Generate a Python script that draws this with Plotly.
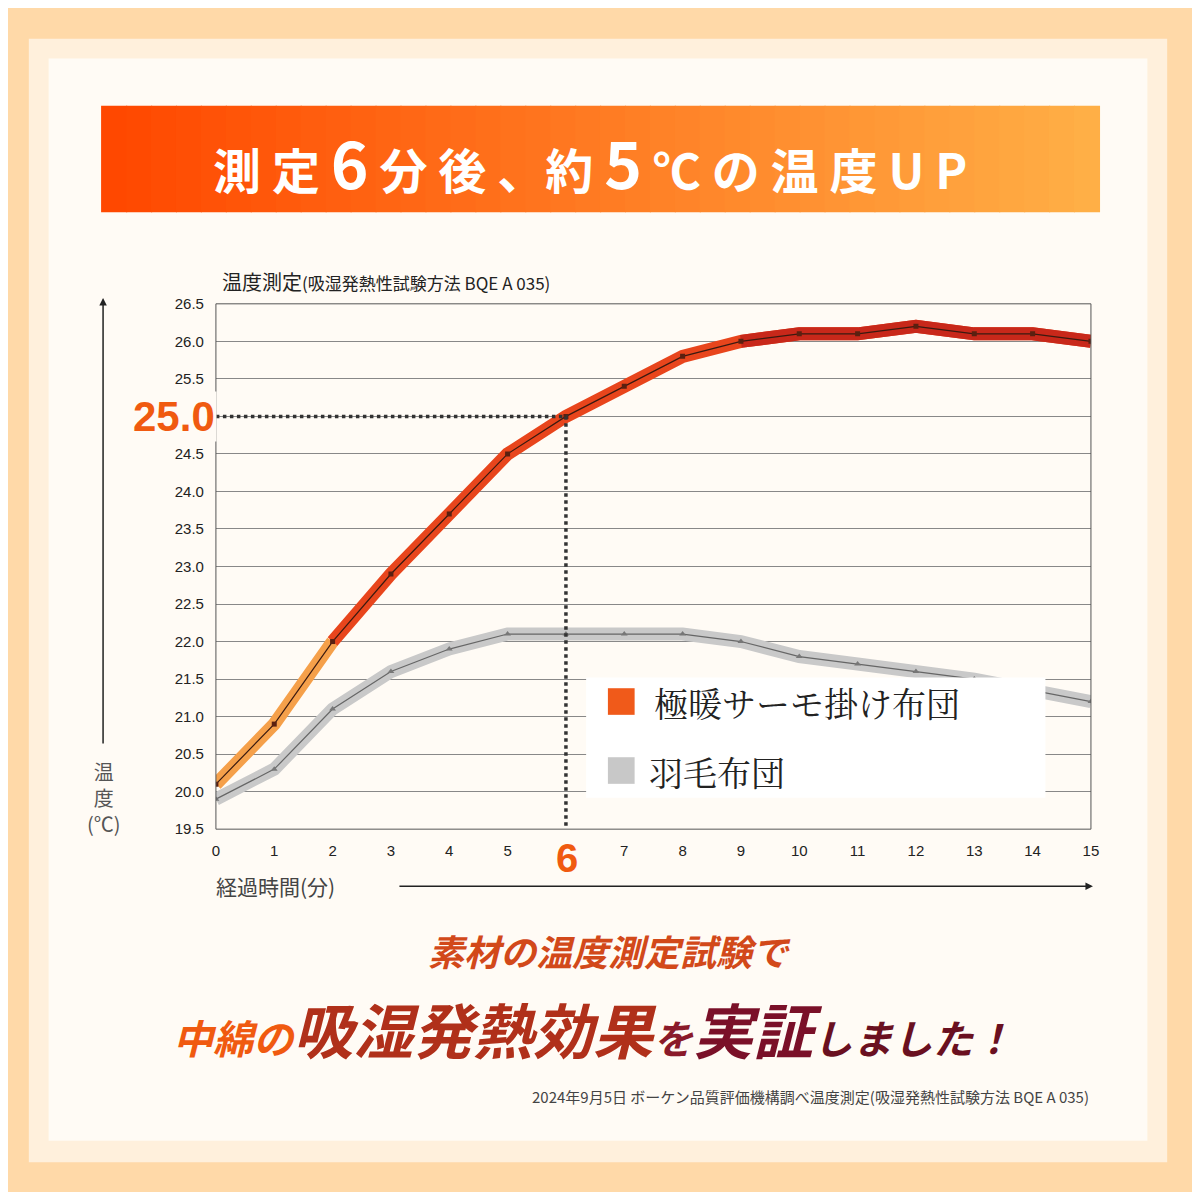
import plotly.graph_objects as go

minutes = list(range(16))
thermo = [20.1, 20.9, 22.0, 22.9, 23.7, 24.5, 25.0, 25.4, 25.8, 26.0, 26.1, 26.1, 26.2, 26.1, 26.1, 26.0]
down = [19.9, 20.3, 21.1, 21.6, 21.9, 22.1, 22.1, 22.1, 22.1, 22.0, 21.8, 21.7, 21.6, 21.5, 21.35, 21.2]
yticks = [19.5 + 0.5 * i for i in range(15)]
names = ["極暖サーモ掛け布団", "羽毛布団"]

W = H = 1184
OFF = 8
def px(x): return (x - OFF) / W
def py(y): return 1 - (y - OFF) / H

fig = go.Figure()
fig.add_trace(go.Scatter(x=minutes, y=down, mode="lines", line=dict(color="#c9c9c9", width=13), hoverinfo="skip"))
fig.add_trace(go.Scatter(x=minutes[:3], y=thermo[:3], mode="lines", line=dict(color="#f5a04a", width=13), hoverinfo="skip"))
fig.add_trace(go.Scatter(x=minutes[2:], y=thermo[2:], mode="lines", line=dict(color="#e8451c", width=13), hoverinfo="skip"))
fig.add_trace(go.Scatter(x=minutes[9:], y=thermo[9:], mode="lines", line=dict(color="#c8281a", width=13), hoverinfo="skip"))
fig.add_trace(go.Scatter(x=minutes, y=down, mode="lines+markers", line=dict(color="#666", width=1.2),
                         marker=dict(symbol="triangle-up", size=6, color="#777"), hoverinfo="skip"))
fig.add_trace(go.Scatter(x=minutes, y=thermo, mode="lines+markers", line=dict(color="#3a1a10", width=1.2),
                         marker=dict(symbol="square", size=5, color="#5a2010"), hoverinfo="skip"))
fig.add_trace(go.Scatter(x=[0, 6, 6], y=[25.0, 25.0, 19.5], mode="lines",
                         line=dict(color="#333", width=3.5, dash="dot"), hoverinfo="skip"))

shapes = []
shapes.append(dict(type="rect", xref="paper", yref="paper", x0=px(25), x1=px(1175), y0=py(1170), y1=py(30),
                   fillcolor="#fff0dc", line=dict(width=0), layer="below"))
shapes.append(dict(type="rect", xref="paper", yref="paper", x0=px(45), x1=px(1155), y0=py(1148), y1=py(50),
                   fillcolor="#fffbf5", line=dict(width=0), layer="below"))
n = 40
c0 = (255, 72, 0); c1 = (255, 175, 70)
for i in range(n):
    t = i / (n - 1)
    c = tuple(int(c0[k] + (c1[k] - c0[k]) * t) for k in range(3))
    shapes.append(dict(type="rect", xref="paper", yref="paper",
                       x0=px(98 + (1106 - 98) * i / n), x1=px(98 + (1106 - 98) * (i + 1) / n) + 0.001,
                       y0=py(206), y1=py(98), fillcolor="rgb(%d,%d,%d)" % c, line=dict(width=0), layer="below"))
shapes.append(dict(type="rect", xref="paper", yref="paper", x0=px(214), x1=px(1098), y0=py(832), y1=py(299),
                   fillcolor="rgba(0,0,0,0)", line=dict(color="#555", width=1)))
shapes.append(dict(type="rect", xref="paper", yref="paper", x0=px(588), x1=px(1052), y0=py(800), y1=py(678),
                   fillcolor="white", line=dict(width=0)))
shapes.append(dict(type="rect", xref="paper", yref="paper", x0=px(610), x1=px(637), y0=py(716), y1=py(689),
                   fillcolor="#f05a1a", line=dict(width=0)))
shapes.append(dict(type="rect", xref="paper", yref="paper", x0=px(610), x1=px(637), y0=py(786), y1=py(759),
                   fillcolor="#c8c8c8", line=dict(width=0)))
fig.update_layout(shapes=shapes)

ann = []
def A(x, y, text, size, color, weight=None, family="Noto Sans CJK JP", xanchor="center", **kw):
    ann.append(dict(x=px(x), y=py(y), xref="paper", yref="paper", text=text, showarrow=False,
                    font=dict(size=size, color=color, family=family, weight=weight), xanchor=xanchor, yanchor="middle", **kw))
ann.append(dict(x=px(100), y=py(293), ax=0, ay=447, xref="paper", yref="paper",
                text="", showarrow=True, arrowhead=2, arrowsize=1, arrowwidth=1.5, arrowcolor="#222"))
ann.append(dict(x=px(1100), y=py(890), ax=-695, ay=0, xref="paper", yref="paper",
                text="", showarrow=True, arrowhead=2, arrowsize=1, arrowwidth=1.5, arrowcolor="#222"))
A(592, 154, "測 定 <span style='font-size:64px'>6</span> 分 後 、約 <span style='font-size:64px'>5</span> ℃ の 温 度 U P", 48, "white", weight="bold")
A(218, 276, "温度測定<span style='font-size:17px'>(吸湿発熱性試験方法 BQE A 035)</span>", 20, "#222", xanchor="left")
A(101, 800, "温<br>度<br>(℃)", 20, "#555")
A(212, 890, "経過時間(分)", 21, "#444", xanchor="left")
A(172, 413, "25.0", 42, "#f05a10", weight="bold", family="Liberation Sans", bgcolor="#fffbf5")
A(569, 861, "6", 40, "#f05a10", weight="bold", family="Liberation Sans", bgcolor="#fffbf5", borderpad=0)
A(655, 703, names[0], 34, "#222", family="Noto Serif CJK JP, Noto Sans CJK JP", xanchor="left")
A(650, 773, names[1], 34, "#222", family="Noto Serif CJK JP, Noto Sans CJK JP", xanchor="left")
A(612, 955, "<i>素材の温度測定試験で</i>", 36, "#d2491a", weight="bold")
A(595, 1033, "<i><span style='color:#f05a10'>中綿の</span><span style='font-size:60px;color:#b0301a'>吸湿発熱効果</span>"
  "<span style='color:#8a1a2a'>を</span><span style='font-size:60px;color:#7a1028'>実証</span><span style='color:#6a1020'>しました！</span></i>",
  40, "#c03018", weight="bold")
A(1098, 1103, "2024年9月5日 ボーケン品質評価機構調べ温度測定(吸湿発熱性試験方法 BQE A 035)", 15, "#444", xanchor="right")
fig.update_layout(annotations=ann)

fig.update_layout(
    width=W, height=H, margin=dict(l=0, r=0, t=0, b=0), showlegend=False,
    paper_bgcolor="#ffd9a8", plot_bgcolor="white",
    xaxis=dict(domain=[px(214), px(1098)], range=[0, 15], tickvals=minutes, showgrid=False, zeroline=False,
               tickfont=dict(size=15, color="#222", family="Liberation Sans"), ticks="outside", ticklen=8,
               tickcolor="rgba(0,0,0,0)", fixedrange=True),
    yaxis=dict(domain=[py(832), py(299)], range=[19.5, 26.5], tickvals=yticks, ticktext=["%.1f" % v for v in yticks],
               showgrid=True, gridcolor="#888", gridwidth=1, zeroline=False,
               tickfont=dict(size=15, color="#222", family="Liberation Sans"), ticks="outside", ticklen=8,
               tickcolor="rgba(0,0,0,0)", fixedrange=True),
)
fig.write_html("out.html")
